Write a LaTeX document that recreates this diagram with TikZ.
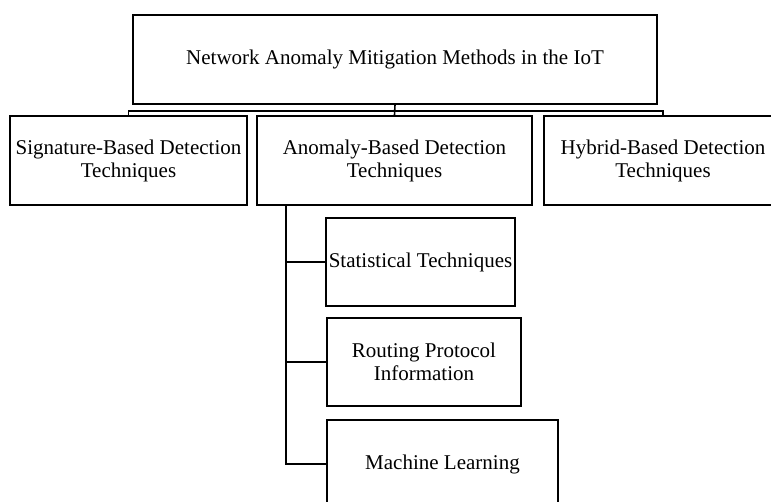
\documentclass[tikz,border=0pt]{standalone}
\usepackage{fontspec}
\setmainfont{Liberation Serif}
\usetikzlibrary{calc}

\tikzset{
  box/.style={draw, line width=0.8pt, align=center, inner sep=0pt,
    font=\fontsize{10.5}{11.5}\selectfont},
  link/.style={line width=0.8pt}
}

\begin{document}
\begin{tikzpicture}[x=0.5pt, y=-0.5pt]

% Page frame
\clip (0,0) rectangle (771,502);

% Root
\node[box, minimum width=262pt, minimum height=44.5pt] (top) at (395,59.5)
  {Network Anomaly Mitigation Methods in the IoT};

% Second level
\node[box, minimum width=118.5pt, minimum height=44.5pt] (sig) at (128.5,160.5)
  {Signature-Based Detection\\Techniques};
\node[box, minimum width=137.5pt, minimum height=44.5pt] (anom) at (394.5,160.5)
  {Anomaly-Based Detection\\Techniques};
\node[box, minimum width=119pt, minimum height=44.5pt] (hyb) at (663,160.5)
  {Hybrid-Based Detection\\Techniques};

% Anomaly-based children
\node[box, minimum width=94.5pt, minimum height=44pt] (stat) at (420.5,262)
  {Statistical Techniques};
\node[box, minimum width=97pt, minimum height=44pt] (rout) at (424,362)
  {Routing Protocol\\Information};
\node[box, minimum width=115.5pt, minimum height=44pt] (ml) at (442.5,464)
  {Machine Learning};

% Bus under the root
\coordinate (bus) at (395,111);
\draw[link] (top.south) -- (anom.north);
\draw[link] (sig.north) |- (bus) -| (hyb.north);

% Spine down the left of the children
\coordinate (spine) at (286,0);
\draw[link] (spine |- anom.south) |- (ml.west);
\draw[link] (spine |- stat.west) -- (stat.west);
\draw[link] (spine |- rout.west) -- (rout.west);

\end{tikzpicture}
\end{document}
